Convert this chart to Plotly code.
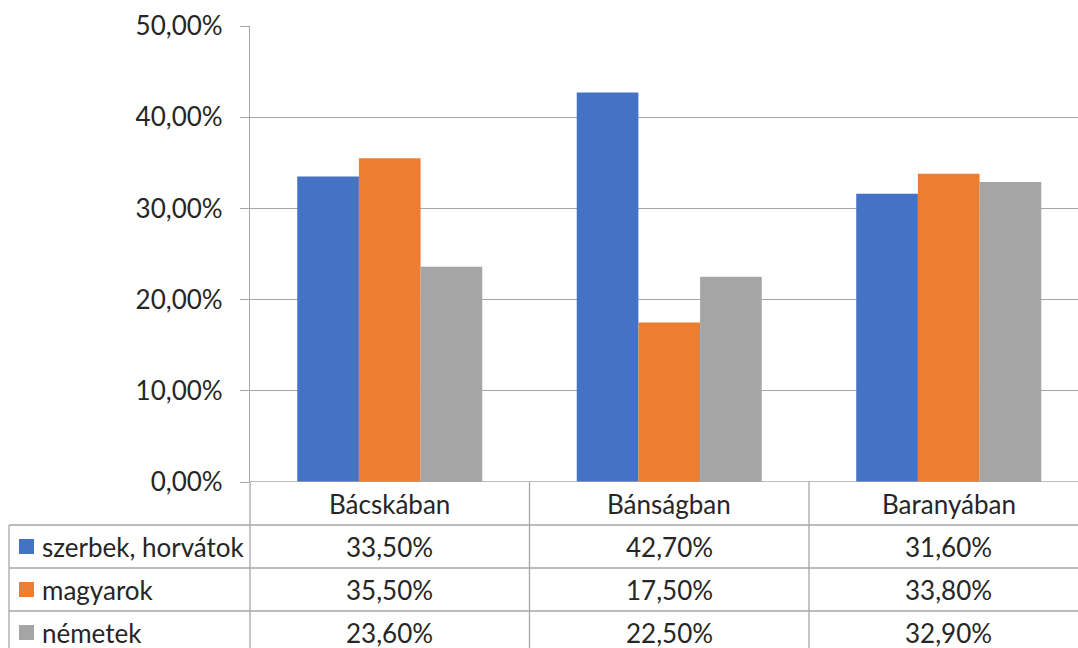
import plotly.graph_objects as go

categories = ["Bácskában", "Bánságban", "Baranyában"]
series_names = ["szerbek, horvátok", "magyarok", "németek"]
szerbek = [0.335, 0.427, 0.316]
magyarok = [0.355, 0.175, 0.338]
nemetek = [0.236, 0.225, 0.329]
colors = ["#4472C4", "#ED7D31", "#A5A5A5"]
y_ticks = [0, 0.1, 0.2, 0.3, 0.4, 0.5]

W, H = 1078, 648
ML, MR, MT, MB = 250, 0, 26, 166
PW = W - ML - MR
PH = H - MT - MB
ROW = 43

FONT = "Lato"
TXT = "#262626"
GRID = "#A6A6A6"
FS = 26


def pct(v):
    return f"{v*100:.2f}%".replace(".", ",")


def py(pix):
    # pixel y (from top) -> paper y
    return (H - MB - pix) / PH


def px(pix):
    return (pix - ML) / PW


xs = list(range(len(categories)))
all_series = [szerbek, magyarok, nemetek]

fig = go.Figure()
for name, vals, col in zip(series_names, all_series, colors):
    fig.add_trace(go.Bar(x=xs, y=vals, name=name, marker=dict(color=col, line=dict(width=0)),
                         showlegend=False, hoverinfo="skip"))

cat_w = 279.5
xmax = -0.5 + PW / cat_w

shapes = []
annotations = []
zero_pix = H - MB
# table horizontal lines
for i in range(1, 4):
    yy = py(zero_pix + ROW * i)
    shapes.append(dict(type="line", xref="paper", yref="paper", x0=px(9), x1=1, y0=yy, y1=yy,
                       line=dict(color=GRID, width=1.3)))
# left table border
shapes.append(dict(type="line", xref="paper", yref="paper", x0=px(9), x1=px(9),
                   y0=py(zero_pix + ROW), y1=py(H + 10), line=dict(color=GRID, width=1.3)))
# axis line continuation through table
shapes.append(dict(type="line", xref="paper", yref="paper", x0=0, x1=0,
                   y0=0, y1=py(H + 10), line=dict(color=GRID, width=1.3)))
# category boundaries
for b in [0.5, 1.5]:
    shapes.append(dict(type="line", xref="x", yref="paper", x0=b, x1=b,
                       y0=0, y1=py(H + 10), line=dict(color=GRID, width=1.3)))

# header row text
for i, c in enumerate(categories):
    annotations.append(dict(x=i, y=py(zero_pix + ROW / 2), xref="x", yref="paper", text=c,
                            showarrow=False, font=dict(family=FONT, size=FS, color=TXT),
                            xanchor="center", yanchor="middle"))
# data rows
for r, (name, vals, col) in enumerate(zip(series_names, all_series, colors)):
    yc = zero_pix + ROW * (r + 1) + ROW / 2
    shapes.append(dict(type="rect", xref="paper", yref="paper", x0=px(19), x1=px(34),
                       y0=py(yc - 7.5), y1=py(yc + 7.5), fillcolor=col, line=dict(width=0)))
    annotations.append(dict(x=px(40), y=py(yc), xref="paper", yref="paper", text=name,
                            showarrow=False, font=dict(family=FONT, size=FS, color=TXT),
                            xanchor="left", yanchor="middle"))
    for i, v in enumerate(vals):
        annotations.append(dict(x=i, y=py(yc), xref="x", yref="paper", text=pct(v),
                                showarrow=False, font=dict(family=FONT, size=FS, color=TXT),
                                xanchor="center", yanchor="middle"))

fig.update_layout(
    width=W, height=H,
    margin=dict(l=ML, r=MR, t=MT, b=MB, pad=0),
    paper_bgcolor="white", plot_bgcolor="white",
    barmode="group", bargap=0.338, bargroupgap=0,
    xaxis=dict(range=[-0.5, xmax], showticklabels=False, showgrid=False, zeroline=False,
               showline=False, ticks="", fixedrange=True),
    yaxis=dict(range=[0, 0.5], tickvals=y_ticks, ticktext=[pct(v) for v in y_ticks],
               showgrid=True, gridcolor=GRID, gridwidth=1.3, zeroline=False,
               showline=True, linecolor=GRID, linewidth=1.3,
               ticks="outside", ticklen=9, tickcolor=GRID, tickwidth=1.3,
               ticklabelstandoff=12,
               tickfont=dict(family=FONT, size=26, color=TXT), fixedrange=True),
    shapes=shapes, annotations=annotations,
)
# x axis line at zero
fig.add_shape(type="line", xref="paper", yref="y", x0=0, x1=1, y0=0, y1=0,
              line=dict(color=GRID, width=1.3))

fig.write_html("out.html", config={"displayModeBar": False})

# remove default page margin so the figure sits at the window's top-left corner
with open("out.html", "r", encoding="utf-8") as f:
    html = f.read()
html = html.replace("<head>", "<head><style>html,body{margin:0;padding:0;overflow:hidden;}</style>", 1)
with open("out.html", "w", encoding="utf-8") as f:
    f.write(html)
